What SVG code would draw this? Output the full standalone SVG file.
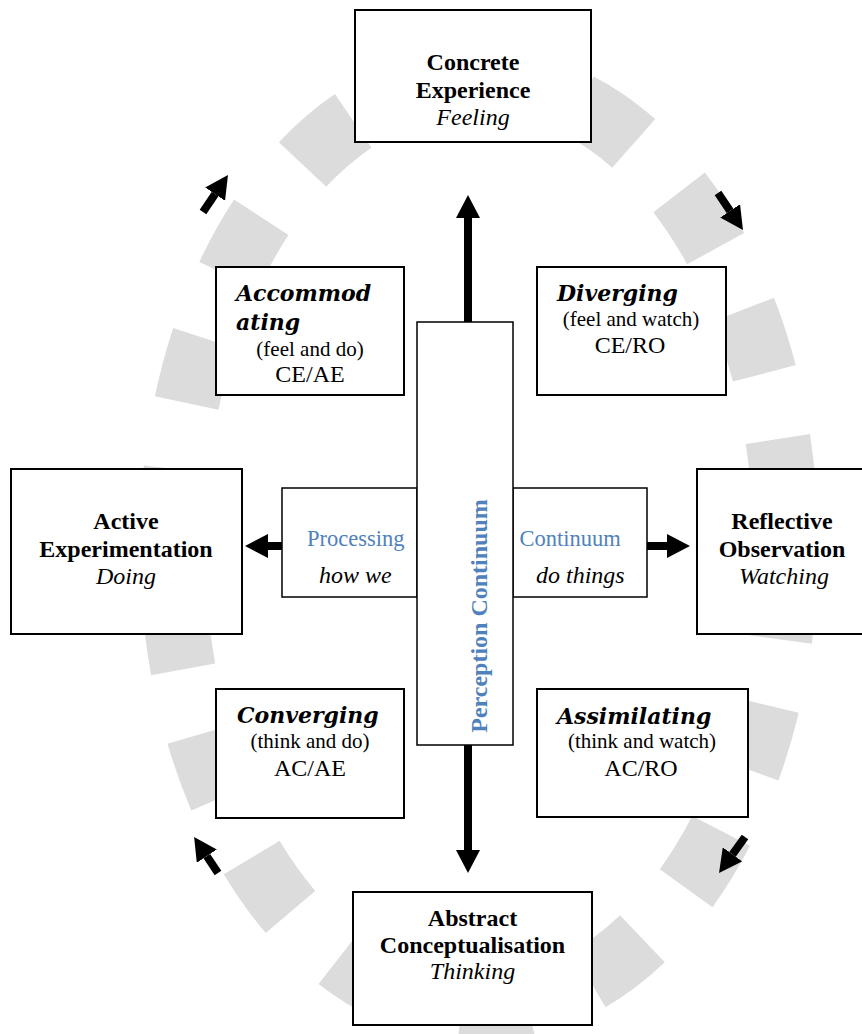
<svg xmlns="http://www.w3.org/2000/svg" width="862" height="1034" viewBox="0 0 862 1034">
<defs>
<style>
.box{fill:#fff;stroke:#000;stroke-width:2}
.thin{fill:#fff;stroke:#000;stroke-width:1.5}
.t{font-family:"Liberation Serif","Times New Roman",serif;fill:#000}
.title{font-size:24px;font-weight:bold;text-anchor:middle}
.sub{font-size:24px;font-style:italic;text-anchor:middle}
.style{font-family:"DejaVu Serif",serif;font-size:22px;font-weight:bold;font-style:italic;fill:#000}
.par{font-size:21px;text-anchor:middle}
.code{font-size:24px;text-anchor:middle}
.blue{font-size:22.5px;fill:#4F81BD}
.ital{font-size:24px;font-style:italic}
.perc{font-size:24px;font-weight:bold;fill:#4F81BD;text-anchor:middle}
.arr{stroke:#000;stroke-width:8;fill:none;marker-end:url(#head)}
</style>
<marker id="head" markerUnits="userSpaceOnUse" markerWidth="24" markerHeight="24" refX="0" refY="12" orient="auto" viewBox="0 0 24 24">
<path d="M0,0 L23,12 L0,24 z" fill="#000"/>
</marker>
</defs>
<rect width="862" height="1034" fill="#fff"/>
<g id="cycle-ring">
<path d="M479,80 A307,465 0 0 1 479,1010 A307,465 0 0 1 479,80" fill="none" stroke="#DCDCDC" stroke-width="65" stroke-dasharray="67.03 67.03" stroke-dashoffset="30.14"/>
</g>
<g id="concrete-experience">
<rect class="box" x="355" y="10" width="236" height="132"/>
<text class="t title" x="473" y="70">Concrete</text>
<text class="t title" x="473" y="97.5">Experience</text>
<text class="t sub" x="473" y="125">Feeling</text>
</g>
<g id="accommodating">
<rect class="box" x="216" y="267" width="188" height="128"/>
<text class="style" x="236" y="301">Accommod</text>
<text class="style" x="236" y="330">ating</text>
<text class="t par" x="310" y="356">(feel and do)</text>
<text class="t code" x="310" y="382">CE/AE</text>
</g>
<g id="diverging">
<rect class="box" x="537" y="267" width="189" height="128"/>
<text class="style" x="557" y="301">Diverging</text>
<text class="t par" x="631" y="326">(feel and watch)</text>
<text class="t code" x="630" y="353">CE/RO</text>
</g>
<g id="active-experimentation">
<rect class="box" x="11" y="469" width="231" height="165"/>
<text class="t title" x="126" y="529">Active</text>
<text class="t title" x="126" y="557">Experimentation</text>
<text class="t sub" x="126" y="584">Doing</text>
</g>
<g id="reflective-observation">
<rect class="box" x="697" y="469" width="175" height="165"/>
<text class="t title" x="782" y="529">Reflective</text>
<text class="t title" x="782" y="557">Observation</text>
<text class="t sub" x="784" y="584">Watching</text>
</g>
<g id="processing-continuum-left">
<rect class="thin" x="282" y="488" width="135" height="109"/>
<text class="t blue" x="307" y="546">Processing</text>
<text class="t ital" x="319" y="583">how we</text>
</g>
<g id="processing-continuum-right">
<rect class="thin" x="513" y="488" width="134" height="109"/>
<text class="t blue" x="519.5" y="546">Continuum</text>
<text class="t ital" x="536" y="583">do things</text>
</g>
<g id="perception-continuum">
<rect class="thin" x="417" y="322" width="96" height="423"/>
<text class="t perc" transform="translate(487,616) rotate(-90)">Perception Continuum</text>
</g>
<g id="converging">
<rect class="box" x="216" y="689" width="188" height="129"/>
<text class="style" x="237" y="723">Converging</text>
<text class="t par" x="310" y="748">(think and do)</text>
<text class="t code" x="310" y="776">AC/AE</text>
</g>
<g id="assimilating">
<rect class="box" x="537" y="689" width="211" height="128"/>
<text class="style" x="557" y="724">Assimilating</text>
<text class="t par" x="642" y="748">(think and watch)</text>
<text class="t code" x="641" y="776">AC/RO</text>
</g>
<g id="abstract-conceptualisation">
<rect class="box" x="353" y="892" width="239" height="133"/>
<text class="t title" x="472.5" y="926">Abstract</text>
<text class="t title" x="472.5" y="953">Conceptualisation</text>
<text class="t sub" x="472.5" y="979">Thinking</text>
</g>
<g id="connectors">
<path class="arr" d="M468,322 L468,218"/>
<path class="arr" d="M468,745 L468,850"/>
<path class="arr" d="M282,546 L268,546"/>
<path class="arr" d="M647,546 L667,546"/>
<path class="arr" d="M203,212 L215.1,194.1"/>
<path class="arr" d="M718,193 L730.1,210.9"/>
<path class="arr" d="M745,837 L732.5,854.3"/>
<path class="arr" d="M218,873 L206.8,856.1"/>
</g>
</svg>
